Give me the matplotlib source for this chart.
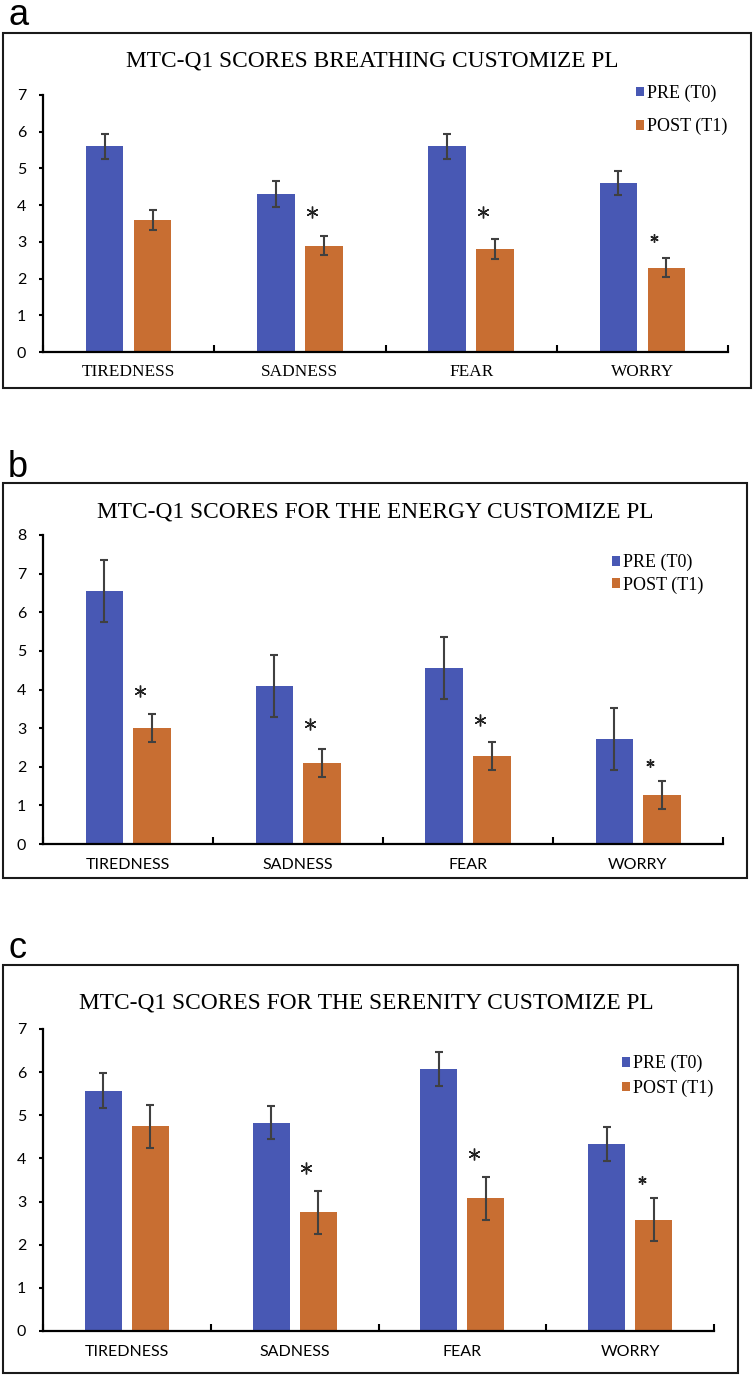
import matplotlib.pyplot as plt
from matplotlib.patches import Rectangle

W, H = 754, 1376

categories = ['TIREDNESS', 'SADNESS', 'FEAR', 'WORRY']
series_labels = ['PRE (T0)', 'POST (T1)']

# panel a - breathing
a_pre = [5.6, 4.3, 5.6, 4.6]
a_pre_err = [0.33, 0.35, 0.33, 0.33]
a_post = [3.6, 2.9, 2.8, 2.3]
a_post_err = [0.28, 0.27, 0.27, 0.27]
a_star_idx = [1, 2, 3]
a_star_y = [3.8, 3.8, 3.1]
a_star_small = [False, False, True]

# panel b - energy
b_pre = [6.55, 4.1, 4.55, 2.72]
b_pre_err = [0.8, 0.8, 0.8, 0.8]
b_post = [3.0, 2.1, 2.27, 1.27]
b_post_err = [0.36, 0.36, 0.36, 0.36]
b_star_idx = [0, 1, 2, 3]
b_star_y = [3.95, 3.1, 3.2, 2.1]
b_star_small = [False, False, False, True]

# panel c - serenity
c_pre = [5.57, 4.83, 6.07, 4.33]
c_pre_err = [0.4, 0.39, 0.4, 0.39]
c_post = [4.75, 2.75, 3.08, 2.58]
c_post_err = [0.5, 0.5, 0.5, 0.5]
c_star_idx = [1, 2, 3]
c_star_y = [3.78, 4.1, 3.5]
c_star_small = [False, False, True]

BLUE = '#4858b4'
ORANGE = '#c86e32'
ERR = '#404040'
SERIF = 'Liberation Serif'
SANS = 'Lato'


def fx(px):
    return px / W


def fy(py):
    return 1 - py / H


fig = plt.figure(figsize=(W / 100, H / 100), dpi=100)


def draw_panel(letter, letter_base, box, axpx, ymax, pre, pre_err, post, post_err,
               star_idx, star_y, star_small, title, title_xy, leg_xy, leg_space,
               cat_family, cat_size, cat_pad):
    # outer frame of the panel
    x0, y0, x1, y1 = box
    fig.patches.append(Rectangle((fx(x0), fy(y1)), (x1 - x0) / W, (y1 - y0) / H,
                                 transform=fig.transFigure, fill=False,
                                 edgecolor='#1a1a1a', linewidth=1.5))
    fig.text(fx(8), fy(letter_base), letter, family='Liberation Sans', size=26,
             va='baseline', ha='left')

    l, t, r, b = axpx
    ax = fig.add_axes([fx(l), fy(b), (r - l) / W, (b - t) / H])
    x = range(len(categories))
    bw = 0.22
    off = 0.14
    bp = ax.bar([i - off for i in x], pre, bw, color=BLUE, label=series_labels[0],
                yerr=pre_err, error_kw=dict(ecolor=ERR, elinewidth=1.5, capsize=3, capthick=1.5))
    bo = ax.bar([i + off for i in x], post, bw, color=ORANGE, label=series_labels[1],
                yerr=post_err, error_kw=dict(ecolor=ERR, elinewidth=1.5, capsize=3, capthick=1.5))

    for i, yv, small in zip(star_idx, star_y, star_small):
        ax.plot(i + 0.07, yv, marker=(6, 2, 0), color='#222222',
                markersize=6 if small else 8.5, mew=1.0)

    ax.set_xlim(-0.5, len(categories) - 0.5)
    ax.set_ylim(0, ymax)
    ax.set_yticks(range(ymax + 1))
    ax.set_xticks([i - 0.5 for i in range(len(categories) + 1)])
    ax.set_xticklabels([])
    ax.set_xticks(list(x), minor=True)
    ax.set_xticklabels(categories, minor=True, family=cat_family, size=cat_size)
    ax.tick_params(axis='x', which='major', direction='in', length=5, width=1.5)
    ax.tick_params(axis='x', which='minor', length=0, pad=cat_pad)
    ax.tick_params(axis='y', direction='out', length=3, width=1.5, pad=9, labelsize=11.5)
    for lab in ax.get_yticklabels():
        lab.set_family(SANS)
    for s in ['top', 'right']:
        ax.spines[s].set_visible(False)
    for s in ['left', 'bottom']:
        ax.spines[s].set_linewidth(1.6)

    fig.text(fx(title_xy[0]), fy(title_xy[1]), title, family=SERIF, size=16.8,
             ha='center', va='center')

    ax.legend(handles=[bp, bo], loc='center left',
              bbox_to_anchor=(fx(leg_xy[0]), fy(leg_xy[1])), bbox_transform=fig.transFigure,
              frameon=False, prop=dict(family=SERIF, size=13),
              handlelength=0.45, handleheight=0.45, handletextpad=0.15,
              labelspacing=leg_space, borderpad=0, borderaxespad=0)
    return ax


draw_panel('a', 25, (3, 33, 751, 388), (43, 95, 728, 352), 7,
           a_pre, a_pre_err, a_post, a_post_err, a_star_idx, a_star_y, a_star_small,
           'MTC-Q1 SCORES BREATHING CUSTOMIZE PL', (372, 61), (636, 110), 0.9,
           SERIF, 12.4, 9)

draw_panel('b', 477, (3, 483, 747, 878), (43, 535, 723, 844), 8,
           b_pre, b_pre_err, b_post, b_post_err, b_star_idx, b_star_y, b_star_small,
           'MTC-Q1 SCORES FOR THE ENERGY CUSTOMIZE PL', (375, 512), (612, 574), 0.28,
           SANS, 11.5, 10)

draw_panel('c', 958, (3, 965, 738, 1373), (43, 1029, 714, 1331), 7,
           c_pre, c_pre_err, c_post, c_post_err, c_star_idx, c_star_y, c_star_small,
           'MTC-Q1 SCORES FOR THE SERENITY CUSTOMIZE PL', (366, 1003), (622, 1076), 0.4,
           SANS, 11.5, 10)

fig.savefig('out.png', dpi=100)
